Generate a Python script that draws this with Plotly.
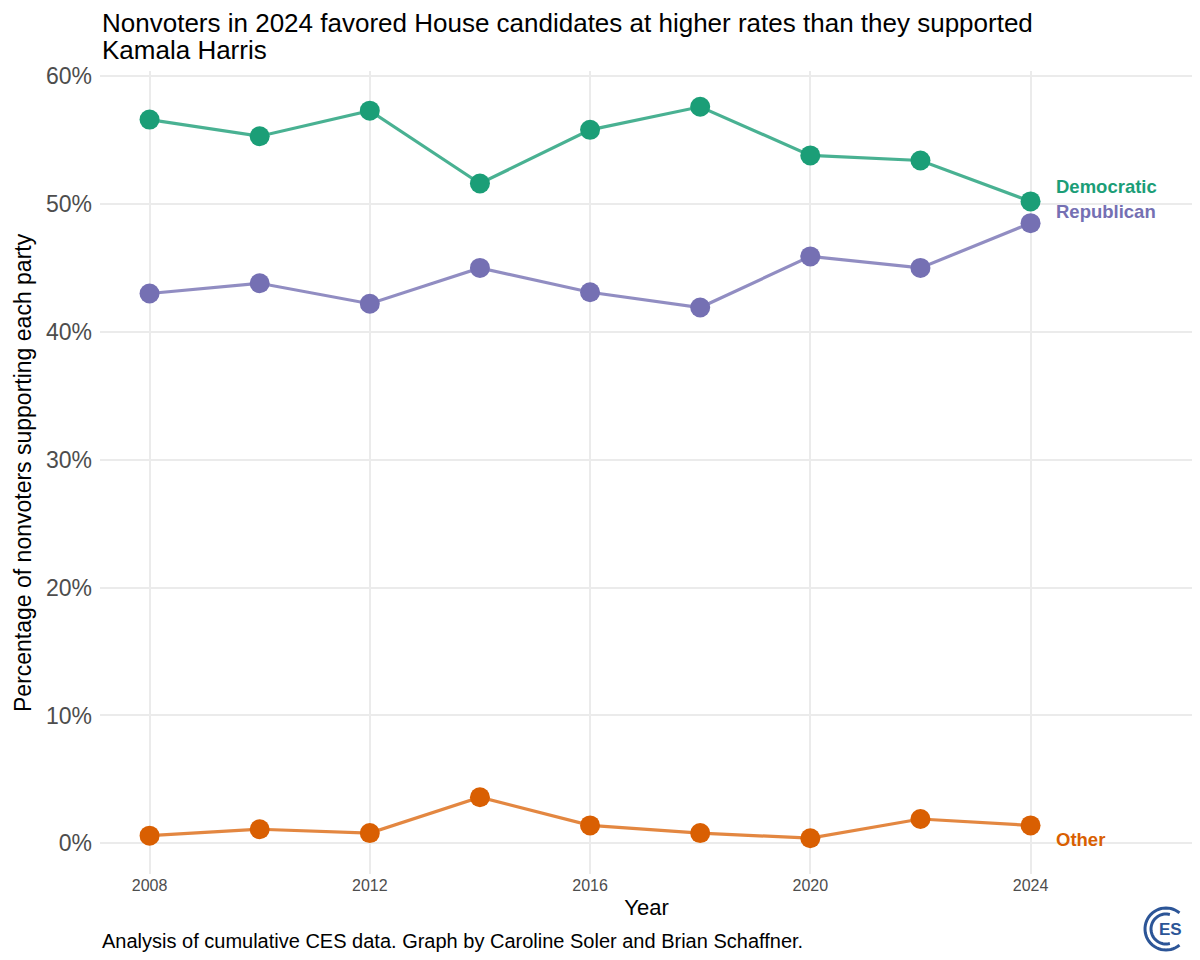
import numpy as np
import plotly.graph_objects as go

# ---- data ----
years = [2008, 2010, 2012, 2014, 2016, 2018, 2020, 2022, 2024]
democratic = [56.6, 55.3, 57.3, 51.6, 55.8, 57.6, 53.8, 53.4, 50.2]
republican = [43.0, 43.8, 42.2, 45.0, 43.1, 41.9, 45.9, 45.0, 48.5]
other = [0.6, 1.1, 0.8, 3.6, 1.4, 0.8, 0.4, 1.9, 1.4]

party_names = ["Democratic", "Republican", "Other"]
party_colors = ["#1B9E77", "#7570B3", "#D95F02"]
line_colors = ["rgba(27,158,119,0.8)", "rgba(117,112,179,0.8)", "rgba(217,95,2,0.75)"]
label_y = [51.4, 49.4, 0.3]  # where the end labels sit

x_ticks = [2008, 2012, 2016, 2020, 2024]
y_ticks = [0, 10, 20, 30, 40, 50, 60]

title_lines = ["Nonvoters in 2024 favored House candidates at higher rates than they supported",
               "Kamala Harris"]

# the page body adds an 8px margin, so the figure is a bit smaller than the window
W, H = 1192, 952
L, R, T, B = 92, 7, 63, 86  # plot panel in pixels

fig = go.Figure()

for name, vals, col, lcol in zip(party_names, [democratic, republican, other],
                                 party_colors, line_colors):
    fig.add_trace(go.Scatter(
        x=years, y=vals, mode="lines", name=name,
        line=dict(color=lcol, width=3.2), showlegend=False, hoverinfo="skip",
    ))
    fig.add_trace(go.Scatter(
        x=years, y=vals, mode="markers", name=name,
        marker=dict(color=col, size=20), showlegend=False,
    ))

# end-of-line labels
for name, ly, col in zip(party_names, label_y, party_colors):
    fig.add_annotation(
        x=years[-1] + 0.42, y=ly, text="<b>%s</b>" % name, showarrow=False,
        xanchor="left", yanchor="middle",
        font=dict(family="Liberation Sans, Arial", size=18.5, color=col),
    )

# ---- pixel -> paper helpers ----
def px(xp):
    return (xp - L) / (W - L - R)

def py(yp):
    return (H - B - yp) / (H - T - B)

def arc_path(cx, cy, r, a0, a1, n=40):
    ang = np.linspace(np.radians(a0), np.radians(a1), n)
    pts = ["%s %.5f,%.5f" % ("M" if i == 0 else "L", px(cx + r * np.cos(a)), py(cy - r * np.sin(a)))
           for i, a in enumerate(ang)]
    return " ".join(pts)

# CES logo (rough)
logo_blue = "#2C5597"
cx, cy = 1158, 921
fig.add_shape(type="path", path=arc_path(cx, cy, 21, 50, 310), xref="paper", yref="paper",
              line=dict(color=logo_blue, width=3))
fig.add_shape(type="path", path=arc_path(cx, cy, 15, 75, 285), xref="paper", yref="paper",
              line=dict(color=logo_blue, width=3))
fig.add_annotation(x=px(cx + 4), y=py(cy), xref="paper", yref="paper", text="<b>ES</b>",
                   xanchor="center", yanchor="middle", showarrow=False,
                   font=dict(family="Liberation Sans", size=17, color=logo_blue))

# title, one annotation per line to get ggplot's tighter line spacing
for line, yline in zip(title_lines, [15, 42]):
    fig.add_annotation(
        x=0, y=py(yline), xref="paper", yref="paper", xanchor="left", yanchor="middle",
        text=line, showarrow=False, font=dict(size=26, color="black"),
    )

# y axis title, placed by hand so it sits near the left edge like ggplot's
fig.add_annotation(
    x=px(0), y=py(465), xref="paper", yref="paper", xanchor="left", yanchor="middle",
    text="Percentage of nonvoters supporting each party", textangle=-90,
    showarrow=False, font=dict(size=23, color="black"),
)

fig.add_annotation(
    x=0, y=py(933), xref="paper", yref="paper", xanchor="left", yanchor="middle",
    text="Analysis of cumulative CES data. Graph by Caroline Soler and Brian Schaffner.",
    showarrow=False, font=dict(size=20, color="black"),
)

fig.update_layout(
    width=W, height=H,
    margin=dict(l=L, r=R, t=T, b=B),
    plot_bgcolor="white", paper_bgcolor="white",
    font=dict(family="Liberation Sans, Arial", color="black"),
    xaxis=dict(
        range=[2007.1, 2026.95], tickvals=x_ticks, ticktext=[str(v) for v in x_ticks],
        showgrid=True, gridcolor="#EBEBEB", gridwidth=1.5, zeroline=False,
        showline=False, ticks="", tickfont=dict(size=16, color="#4D4D4D"),
        title=dict(text="Year", font=dict(size=22, color="black"), standoff=6),
    ),
    yaxis=dict(
        range=[-2.4, 60.4], tickvals=y_ticks, ticktext=["%d%%" % v for v in y_ticks],
        showgrid=True, gridcolor="#EBEBEB", gridwidth=1.5, zeroline=False,
        showline=False, ticks="", ticklabelstandoff=7,
        tickfont=dict(size=23, color="#4D4D4D"),
    ),
)

fig.write_html("out.html")
